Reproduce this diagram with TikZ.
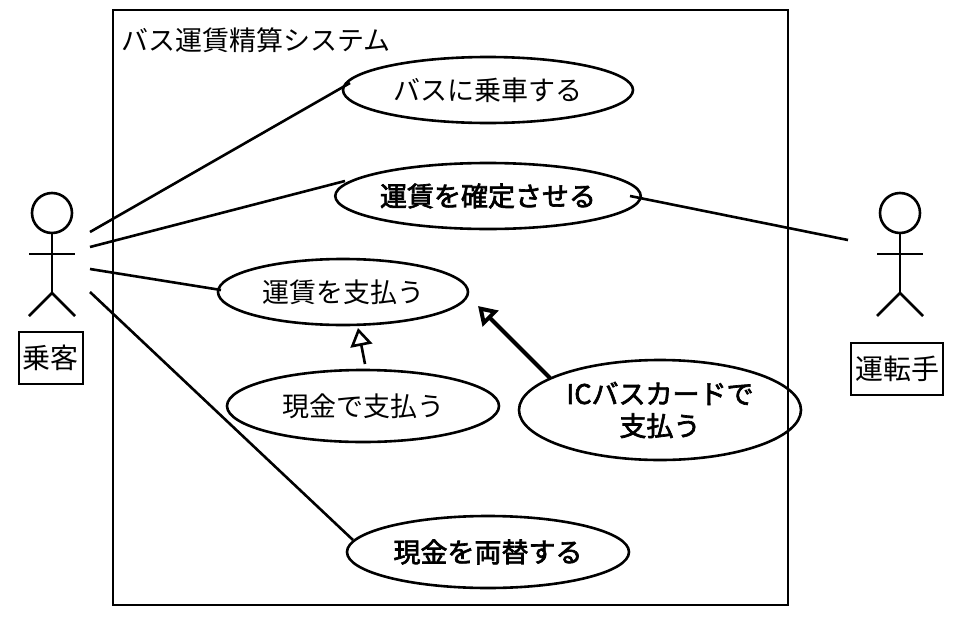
\documentclass[tikz,border=0pt]{standalone}
\usepackage{fontspec}
\setmainfont{Noto Sans CJK JP}
\newfontfamily\bcjk{Noto Sans CJK JP}[FakeBold=2.5]
\usetikzlibrary{shapes.geometric,arrows.meta}
\begin{document}
\begin{tikzpicture}[x=1pt,y=-1pt,line width=2.6pt,
  uc/.style={draw,ellipse,minimum width=#1,font=\fontsize{27}{30}\selectfont,align=center,inner sep=0pt},
  ucb/.style={uc=#1,font=\fontsize{27}{32}\selectfont\bcjk},
  lbl/.style={draw,font=\fontsize{28}{30}\selectfont,inner sep=4pt,minimum height=52pt},
  gen/.style={-{Triangle[open,length=18pt,width=22pt]}}]
\useasboundingbox (0,0) rectangle (980,616);
\draw (113,10) rectangle (788,605);
\node[anchor=west,font=\fontsize{27}{30}\selectfont] (title) at (117,40) {バス運賃精算システム};
\node[uc=290pt,minimum height=66pt] (e1) at (488,90) {バスに乗車する};
\node[ucb=290pt,minimum height=66pt] (e2) at (488,196) {運賃を確定させる};
\node[uc=250pt,minimum height=66pt] (e3) at (343,292) {運賃を支払う};
\node[uc=272pt,minimum height=72pt] (e4) at (363,406) {現金で支払う};
\node[ucb=282pt,minimum height=100pt] (e5) at (660,410) {ICバスカードで\\支払う};
\node[ucb=282pt,minimum height=72pt] (e6) at (488,552) {現金を両替する};
% left actor
\node[draw,circle,minimum size=40pt,inner sep=0pt] (h1) at (52,213) {};
\draw (h1.south) -- (52,293) coordinate (hip1);
\draw (29,254) -- (75,254);
\draw (29,316) -- (hip1) -- (75,316);
\node[lbl] (l1) at (51,358) {乗客};
% right actor
\node[draw,circle,minimum size=40pt,inner sep=0pt] (h2) at (900,213) {};
\draw (h2.south) -- (900,293) coordinate (hip2);
\draw (877,254) -- (923,254);
\draw (877,316) -- (hip2) -- (923,316);
\node[lbl] (l2) at (897,369) {運転手};
% connectors
\coordinate (p1) at (90,232);
\coordinate (p2) at (90,247);
\coordinate (p3) at (90,269);
\coordinate (p4) at (90,292);
\coordinate (q1) at (848,240);
\coordinate (t1) at (350,83);
\coordinate (t2) at (345,181);
\coordinate (t3) at (221,290);
\coordinate (t6) at (353,540);
\coordinate (t2r) at (630,196);
\draw (p1) -- (t1);
\draw (p2) -- (t2);
\draw (p3) -- (t3);
\draw (p4) -- (t6);
\draw (q1) -- (t2r);
\coordinate (a1) at (365,364);
\coordinate (b1) at (358,328);
\coordinate (a2) at (550,378);
\coordinate (b2) at (478,306);
\draw[gen,line width=2.6pt] (a1) -- (b1);
\draw[gen,line width=4pt] (a2) -- (b2);
\end{tikzpicture}
\end{document}
